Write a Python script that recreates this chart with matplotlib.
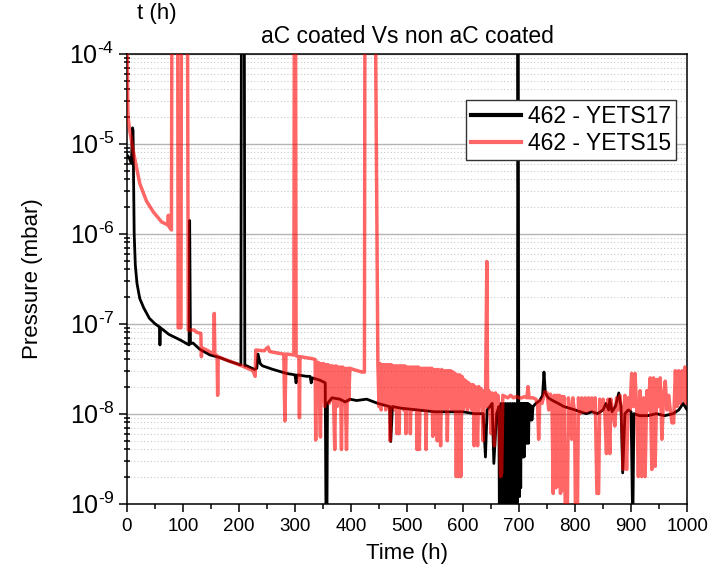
import math
import matplotlib
matplotlib.use('Agg')
import matplotlib.pyplot as plt
from matplotlib.ticker import LogLocator, FuncFormatter, NullFormatter, MultipleLocator

plt.rcParams['font.family'] = ['Liberation Sans', 'DejaVu Sans']
plt.rcParams['mathtext.fontset'] = 'custom'
plt.rcParams['mathtext.rm'] = 'Liberation Sans'
plt.rcParams['mathtext.it'] = 'Liberation Sans'

# 462 - YETS17 (black), time in hours, pressure in mbar
t17 = [0, 4, 8, 10, 11, 13, 15, 18, 23, 30, 40, 50, 58, 59, 60, 75, 95, 111, 112, 113.5,
       118, 130, 148, 166, 184, 202, 203.5, 204.5, 209.5, 210.5, 214, 228, 232, 234, 238, 242,
       261, 285, 300, 302, 304, 321, 327, 329, 331, 345, 354, 355.5, 357, 358, 366, 380, 390,
       398, 410, 428, 448, 469, 471, 474, 490, 520, 550, 577, 600, 620, 636, 640, 643, 648,
       652, 655, 660, 664,
       665, 666, 667, 668, 669, 670, 671, 672, 673, 674, 675, 676, 677, 678, 679, 680, 681,
       682, 683, 684, 685, 686, 687, 688, 689, 690, 691, 692, 693, 694, 695, 696, 697,
       698, 699.5, 701, 702, 703, 704, 705, 706, 707, 708, 709, 710, 711, 712, 713, 714, 715,
       716, 717, 718, 719, 720, 721, 722, 723, 725,
       730, 737, 742, 744.5, 747, 752, 760, 770, 780, 790, 800, 809, 820, 830, 840, 850,
       855, 860, 862, 866, 872, 878, 882, 885, 889, 895, 900, 903, 905, 915, 930, 945, 960,
       975, 985, 993, 1000]
p17 = [7.5e-6, 7.0e-6, 6.0e-6, 1.5e-5, 1.4e-5, 1.0e-6, 4.5e-7, 2.8e-7, 1.9e-7, 1.5e-7, 1.15e-7,
       1.0e-7, 9.2e-8, 5.8e-8, 9.0e-8, 7.6e-8, 6.6e-8, 5.8e-8, 1.4e-6, 6.0e-8,
       6.1e-8, 5.2e-8, 4.5e-8, 4.2e-8, 3.8e-8, 3.5e-8, 3.5e-8, 1e-3, 1e-3, 3.4e-8, 3.4e-8,
       3.1e-8, 3.2e-8, 4.6e-8, 3.6e-8, 3.4e-8,
       3.1e-8, 2.8e-8, 2.7e-8, 2.2e-8, 2.7e-8, 2.6e-8, 2.6e-8, 2.2e-8, 2.5e-8, 2.35e-8, 2.2e-8,
       5e-10, 5e-10, 1.3e-8, 1.5e-8, 1.45e-8, 1.35e-8,
       1.45e-8, 1.4e-8, 1.45e-8, 1.3e-8, 1.2e-8, 4.9e-9, 1.2e-8, 1.15e-8, 1.1e-8, 1.05e-8,
       1.05e-8, 1.05e-8, 1.0e-8, 1.0e-8, 3.3e-9, 1.1e-8, 1.2e-8,
       1.3e-8, 2.8e-9, 1.0e-8, 1.2e-8,
       5e-10, 1.2e-8, 5e-10, 1.3e-8, 5e-10, 1.2e-8, 5e-10, 1.3e-8, 5e-10, 1.2e-8, 5e-10,
       1.3e-8, 5e-10, 1.2e-8, 5e-10, 1.3e-8, 5e-10,
       1.2e-8, 5e-10, 1.3e-8, 5e-10, 1.2e-8, 5e-10, 1.3e-8, 5e-10, 1.2e-8, 5e-10, 1.3e-8,
       5e-10, 1.2e-8, 5e-10, 1.3e-8, 5e-10,
       1e-3, 1.3e-8, 1.2e-9, 1.3e-8, 1.5e-9, 1.3e-8, 3.3e-9, 1.3e-8, 3.3e-9, 1.3e-8, 3.3e-9,
       1.3e-8, 4.7e-9, 1.3e-8, 4.7e-9, 1.3e-8, 4.7e-9,
       1.3e-8, 4.7e-9, 1.25e-8, 8.5e-9, 1.25e-8, 8.5e-9, 1.2e-8, 8.5e-9, 1.2e-8,
       1.3e-8, 1.4e-8, 1.6e-8, 2.9e-8, 1.7e-8, 1.5e-8, 1.4e-8, 1.3e-8, 1.2e-8, 1.15e-8,
       1.1e-8, 1.05e-8, 1.0e-8, 1.05e-8, 1.0e-8, 1.1e-8,
       1.3e-8, 1.1e-8, 1.45e-8, 1.05e-8, 1.2e-8, 1.7e-8, 1.2e-8, 2.2e-9, 1.0e-8, 1.1e-8, 1.05e-8,
       5e-10, 1.0e-8, 9.5e-9, 9.5e-9, 1.0e-8, 9.5e-9,
       1.0e-8, 1.1e-8, 1.3e-8, 1.1e-8]

# 462 - YETS15 (red)
t15 = [0, 1.5, 2, 5, 11, 23, 35, 47, 62, 73, 74, 75, 79.5, 80.5, 90.5, 91.5, 96.5, 97.5, 108,
       109.5, 120, 125, 132, 133, 134, 145, 155, 156, 157, 161, 162, 163, 175, 190, 205, 215,
       225, 229, 230, 245, 252, 255, 270, 280, 282, 284, 298, 299, 301, 302, 307, 308, 309,
       320, 330, 336, 337, 338, 340, 342, 344, 345.5, 347, 349, 351, 353, 355, 357, 359, 361,
       363, 365, 367, 369, 371, 373, 375, 377, 379, 381, 383, 385, 387, 389, 392, 394, 396,
       398, 404, 412, 420, 424, 425, 443, 448,
       450, 452, 454, 456, 458, 460, 462, 464, 466, 468, 470, 472, 474, 476, 478, 480, 482,
       484, 486, 488, 490, 492, 494, 496, 498, 500, 502, 504, 506, 508, 510, 512, 514, 516,
       518, 520, 522, 524, 526, 528, 530, 532, 534, 536, 538, 540, 542, 544, 546, 548, 550,
       552, 554, 556, 558, 560, 562, 564, 566, 568, 570, 572, 574, 576, 578, 580,
       582, 584, 586, 588, 590, 592, 594, 596, 598, 600, 602, 604, 606, 608, 610, 612, 614,
       616, 618, 620, 622, 624, 626, 628, 630, 632, 634, 636, 638, 640, 642.5, 644, 646, 648,
       650, 652, 654, 656, 658, 660, 662, 664, 667, 669, 671,
       675, 680, 685, 690, 695, 700, 705, 710, 714, 716, 718, 725, 730, 733, 735, 737, 741,
       746, 750,
       753, 756, 759, 761, 763, 766, 768, 770, 772, 774, 776, 778, 780, 783, 786, 788, 791,
       794, 796, 799, 801, 804, 806, 809, 812, 815, 818, 821, 824, 827, 830, 833, 836, 839,
       842, 844, 847, 850, 853, 856, 859, 862, 864, 867, 871, 874, 877, 880, 883, 886, 889,
       892, 895, 898,
       901, 904, 907, 910, 913, 916, 919, 922, 925, 928, 931, 934, 937, 940, 943, 946, 949,
       952, 955, 958, 961, 964, 967, 970, 973, 976, 979, 982, 985, 988, 991, 994, 996, 998,
       1000]
p15 = [3e-4, 3e-5, 2.0e-5, 1.4e-5, 8.5e-6, 3.6e-6, 2.3e-6, 1.75e-6, 1.35e-6, 1.25e-6, 1.6e-6,
       1.2e-6, 1.1e-6, 1e-3, 1e-3, 9.0e-8, 9.0e-8, 1e-3, 1e-3,
       8.5e-8, 8.5e-8, 8.0e-8, 7.8e-8, 4.3e-8, 5.4e-8, 5.0e-8, 4.6e-8, 1.3e-7, 4.6e-8, 4.4e-8,
       1.6e-8, 4.3e-8, 4.0e-8, 3.7e-8, 3.4e-8, 3.2e-8,
       3.0e-8, 2.6e-8, 5.1e-8, 5.0e-8, 5.5e-8, 4.9e-8, 4.7e-8, 4.6e-8, 8.3e-9, 4.6e-8, 4.5e-8,
       1e-3, 1e-3, 4.4e-8, 4.3e-8, 9e-9, 4.3e-8,
       4.2e-8, 4.1e-8, 4.0e-8, 5.1e-9, 3.8e-8, 1.5e-8, 3.7e-8, 1.3e-8, 5.5e-9, 3.6e-8, 1.4e-8,
       3.6e-8, 1.2e-8, 3.5e-8, 1.4e-8, 3.5e-8, 1.3e-8,
       3.4e-8, 1.4e-8, 3.4e-8, 1.3e-8, 4.0e-9, 3.4e-8, 1.2e-8, 3.3e-8, 1.4e-8, 3.3e-8, 4.0e-9,
       3.3e-8, 1.3e-8, 3.2e-8, 4.0e-9, 3.2e-8, 1.4e-8,
       3.2e-8, 3.1e-8, 3.0e-8, 2.9e-8, 2.9e-8, 1e-3, 1e-3, 3.6e-8,
       1.2e-8, 3.6e-8, 1.1e-8, 3.5e-8, 1.3e-8, 3.5e-8, 1.1e-8, 3.5e-8, 1.2e-8, 3.5e-8, 5.0e-9,
       3.5e-8, 1.2e-8, 3.4e-8, 1.1e-8, 3.4e-8, 6.0e-9,
       3.4e-8, 6.0e-9, 3.4e-8, 1.2e-8, 3.4e-8, 1.1e-8, 3.4e-8, 6.0e-9, 3.3e-8, 1.2e-8, 3.3e-8,
       6.0e-9, 3.3e-8, 1.1e-8, 3.3e-8, 1.2e-8, 3.3e-8,
       4.0e-9, 3.3e-8, 4.0e-9, 3.2e-8, 1.2e-8, 3.2e-8, 1.1e-8, 3.2e-8, 4.0e-9, 3.2e-8, 1.2e-8,
       3.2e-8, 1.1e-8, 3.2e-8, 5.6e-9, 3.1e-8, 1.2e-8,
       3.1e-8, 5.0e-9, 3.1e-8, 1.1e-8, 4.4e-9, 3.1e-8, 1.2e-8, 3.0e-8, 1.1e-8, 3.0e-8, 5.0e-9,
       3.0e-8, 1.2e-8, 3.0e-8, 1.1e-8,
       2.9e-8, 1.1e-8, 2.8e-8, 2.0e-9, 2.7e-8, 2.0e-9, 2.7e-8, 2.0e-9, 2.6e-8, 1.1e-8, 2.4e-8,
       1.2e-8, 2.3e-8, 1.1e-8, 2.2e-8, 1.2e-8, 2.1e-8,
       1.1e-8, 2.1e-8, 4.4e-9, 2.0e-8, 1.1e-8, 4.4e-9, 2.0e-8, 1.2e-8, 1.9e-8, 1.1e-8, 5.0e-9,
       1.8e-8, 1.2e-8, 4.9e-7, 1.2e-8, 1.8e-8, 1.1e-8,
       6.0e-9, 1.7e-8, 1.2e-8, 4.4e-9, 1.7e-8, 1.1e-8, 1.6e-8, 1.2e-8, 2.0e-9, 2.2e-9, 1.6e-8,
       1.55e-8, 1.5e-8, 1.6e-8, 1.5e-8, 1.55e-8, 1.5e-8, 1.5e-8, 1.55e-8, 1.5e-8, 2.0e-8,
       1.5e-8, 1.5e-8, 1.45e-8, 1.3e-8, 5.2e-9, 1.4e-8, 1.3e-8,
       1.75e-8, 1.7e-8,
       1.1e-8, 1.65e-8, 1.05e-8, 1.3e-9, 1.6e-8, 1.5e-9, 1.6e-8, 1.56e-9, 1.6e-8, 1.3e-9,
       1.55e-8, 1.4e-9, 1.55e-8, 5e-10, 5e-10, 1.5e-8, 1.05e-8,
       5.2e-9, 1.5e-8, 1.05e-8, 5e-10, 5e-10, 1.5e-8, 1.0e-8, 1.5e-8, 1.05e-8, 1.5e-8, 1.05e-8,
       1.5e-8, 1.1e-8, 1.5e-8, 1.05e-8, 1.5e-8, 1.3e-9,
       1.3e-9, 1.45e-8, 1.1e-8, 1.45e-8, 1.05e-8, 3.6e-9, 1.45e-8, 3.6e-9, 1.45e-8, 1.1e-8,
       7.3e-9, 1.5e-8, 1.1e-8, 1.6e-8, 1.1e-8, 2.4e-9, 1.6e-8,
       2.4e-9, 1.5e-8, 1.1e-8,
       2.8e-8, 1.2e-8, 2.8e-8, 1.1e-8, 2.0e-9, 1.8e-8, 2.0e-9, 1.5e-8, 2.0e-9, 1.8e-8, 1.1e-8,
       2.5e-8, 2.4e-9, 2.5e-8, 2.6e-9, 2.4e-8, 1.2e-8,
       2.5e-8, 5.2e-9, 1.6e-8, 2.3e-8, 1.1e-8, 1.6e-8, 1.1e-8, 7.9e-9, 7.9e-9, 3.0e-8, 1.2e-8,
       3.0e-8, 1.3e-8, 3.0e-8, 1.4e-8, 3.3e-8, 1.3e-8,
       1.5e-8]

decades = [1e-9, 1e-8, 1e-7, 1e-6, 1e-5, 1e-4]


def decade_label(v, pos):
    # plain hyphen in the exponent, like the original
    exp = int(round(math.log10(v)))
    return '$\\mathregular{10^{\\text{-}%d}}$' % abs(exp)


fig = plt.figure(figsize=(7.21, 5.74), dpi=100)
ax = fig.add_axes([0.176, 0.1225, 0.777, 0.784])

ax.plot(t17, p17, color='black', lw=2.0, label='462 - YETS17', zorder=3)
ax.plot(t15, p15, color='red', alpha=0.6, lw=2.5, label='462 - YETS15', zorder=4)

ax.set_yscale('log')
ax.set_xlim(0, 1000)
ax.set_ylim(decades[0], decades[-1])
ax.set_yticks(decades)
ax.yaxis.set_minor_locator(LogLocator(base=10, subs=range(2, 10), numticks=20))
ax.yaxis.set_major_formatter(FuncFormatter(decade_label))
ax.yaxis.set_minor_formatter(NullFormatter())
ax.xaxis.set_major_locator(MultipleLocator(100))
ax.xaxis.set_minor_locator(MultipleLocator(50))

ax.grid(True, which='major', axis='y', color='#b4b4b4', lw=1.0, zorder=0)
ax.grid(True, which='minor', axis='y', color='#c8c8c8', ls=(0, (1, 2)), lw=0.8, zorder=0)
ax.set_axisbelow(True)

for s in ax.spines.values():
    s.set_linewidth(1.1)
ax.tick_params(axis='x', which='major', direction='out', length=6, width=1.1, labelsize=13.5, pad=4)
ax.tick_params(axis='x', which='minor', direction='out', length=3.5, width=1.1)
ax.tick_params(axis='y', which='major', direction='out', length=6, width=1.1, labelsize=18, pad=3)
ax.tick_params(axis='y', which='minor', direction='inout', length=4, width=1.1)

ax.set_xlabel('Time (h)', fontsize=16, labelpad=6)
ax.set_ylabel('Pressure (mbar)', fontsize=16)
ax.yaxis.set_label_coords(-0.15, 0.5)
ax.set_title('aC coated Vs non aC coated', fontsize=16.5, pad=8)
fig.text(137 / 721, 1 - 13 / 574, 't (h)', fontsize=16, va='center', ha='left')

leg = ax.legend(loc='upper right', bbox_to_anchor=(0.98, 0.897), fontsize=16.5,
                frameon=True, fancybox=False, framealpha=1, edgecolor='#333333',
                handlelength=2.2, handletextpad=0.3, borderpad=0.2, labelspacing=0.2,
                borderaxespad=0)
leg.get_frame().set_linewidth(1.0)
for line in leg.get_lines():
    line.set_linewidth(3)

fig.savefig('out.png', dpi=100)
